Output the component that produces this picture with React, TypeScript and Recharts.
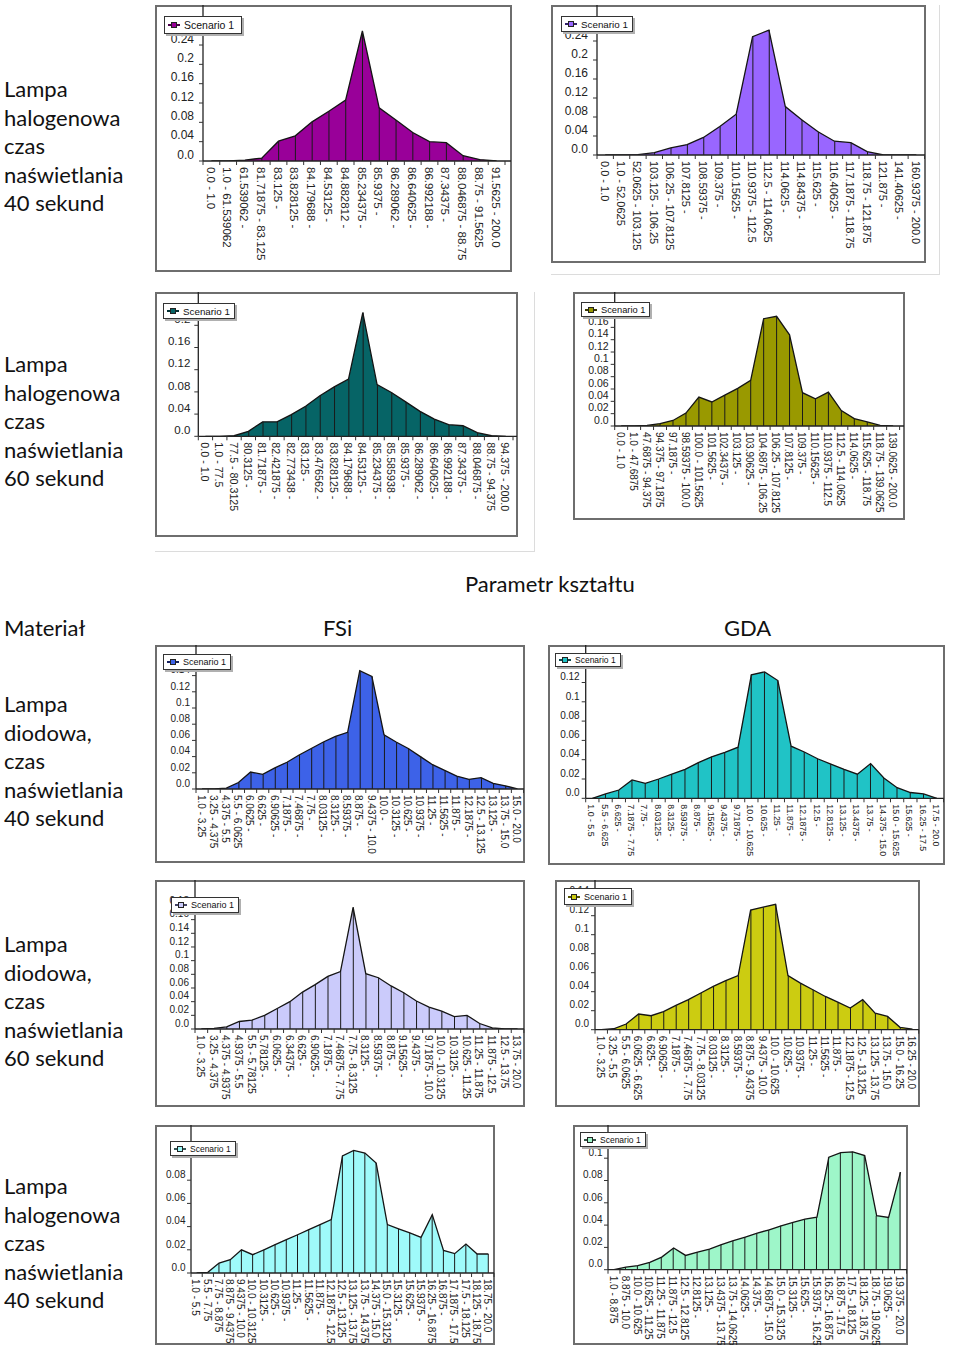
import React from 'react';
import { ComposedChart, Area, Bar, XAxis, YAxis, Legend } from 'recharts';

const FONT = '"Liberation Sans", Arial, Helvetica, sans-serif';
const TEXT_FONT = 'Lato, "Noto Sans", sans-serif';

// ---------------- DATA ----------------
const cats1 = ["0.0 - 1.0", "1.0 - 61.539062", "61.539062 -", "81.71875 - 83.125", "83.125 -", "83.828125 -", "84.179688 -", "84.53125 -", "84.882812 -", "85.234375 -", "85.9375 -", "86.289062 -", "86.640625 -", "86.992188 -", "87.34375 -", "88.046875 - 88.75", "88.75 - 91.5625", "91.5625 - 200.0"];
const vals1 = [0, 0, 0.002, 0.006, 0.041, 0.052, 0.081, 0.103, 0.126, 0.269, 0.110, 0.085, 0.059, 0.040, 0.038, 0.011, 0.003, 0];
const yTicks1 = [0, 0.04, 0.08, 0.12, 0.16, 0.2, 0.24];

const cats2 = ["0.0 - 1.0", "1.0 - 52.0625", "52.0625 - 103.125", "103.125 - 106.25", "106.25 - 107.8125", "107.8125 -", "108.59375 -", "109.375 -", "110.15625 -", "110.9375 - 112.5", "112.5 - 114.0625", "114.0625 -", "114.84375 -", "115.625 -", "116.40625 -", "117.1875 - 118.75", "118.75 - 121.875", "121.875 -", "141.40625 -", "160.9375 - 200.0"];
const vals2 = [0, 0, 0.001, 0.005, 0.015, 0.022, 0.037, 0.060, 0.086, 0.249, 0.263, 0.102, 0.074, 0.049, 0.029, 0.026, 0.007, 0, 0, 0];
const yTicks2 = [0, 0.04, 0.08, 0.12, 0.16, 0.2, 0.24];

const cats3 = ["0.0 - 1.0", "1.0 - 77.5", "77.5 - 80.3125", "80.3125 -", "81.71875 -", "82.421875 -", "82.773438 -", "83.125 -", "83.476562 -", "83.828125 -", "84.179688 -", "84.53125 -", "85.234375 -", "85.585938 -", "85.9375 -", "86.289062 -", "86.640625 -", "86.992188 -", "87.34375 -", "88.046875 -", "88.75 - 94.375", "94.375 - 200.0"];
const vals3 = [0, 0, 0.001, 0.009, 0.026, 0.026, 0.039, 0.054, 0.073, 0.089, 0.103, 0.223, 0.093, 0.079, 0.062, 0.045, 0.031, 0.021, 0.019, 0.0066, 0.001, 0];
const yTicks3 = [0, 0.04, 0.08, 0.12, 0.16, 0.2];

const cats4 = ["0.0 - 1.0", "1.0 - 47.6875", "47.6875 - 94.375", "94.375 - 97.1875", "97.1875 -", "98.59375 - 100.0", "100.0 - 101.5625", "101.5625 -", "102.34375 -", "103.125 -", "103.90625 -", "104.6875 - 106.25", "106.25 - 107.8125", "107.8125 -", "109.375 -", "110.15625 -", "110.9375 - 112.5", "112.5 - 114.0625", "114.0625 -", "115.625 - 118.75", "118.75 - 139.0625", "139.0625 - 200.0"];
const vals4 = [0, 0, 0.001, 0.004, 0.009, 0.021, 0.047, 0.039, 0.050, 0.061, 0.074, 0.174, 0.178, 0.148, 0.054, 0.044, 0.055, 0.025, 0.012, 0.0065, 0.001, 0];
const yTicks4 = [0, 0.02, 0.04, 0.06, 0.08, 0.1, 0.12, 0.14, 0.16, 0.18];

const cats5 = ["1.0 - 3.25", "3.25 - 4.375", "4.375 - 5.5", "5.5 - 6.0625", "6.0625 -", "6.625 -", "6.90625 -", "7.1875 -", "7.46875 -", "7.75 -", "8.03125 -", "8.3125 -", "8.59375 -", "8.875 -", "9.4375 - 10.0", "10.0 -", "10.3125 -", "10.625 -", "10.9375 -", "11.25 -", "11.5625 -", "11.875 -", "12.1875 -", "12.5 - 13.125", "13.125 -", "13.75 - 15.0", "15.0 - 20.0"];
const vals5 = [0, 0, 0.001, 0.008, 0.021, 0.018, 0.026, 0.033, 0.042, 0.050, 0.058, 0.065, 0.070, 0.146, 0.139, 0.067, 0.058, 0.050, 0.040, 0.030, 0.023, 0.016, 0.012, 0.014, 0.007, 0.004, 0];
const yTicks5 = [0, 0.02, 0.04, 0.06, 0.08, 0.1, 0.12, 0.14];

const cats6 = ["1.0 - 5.5", "5.5 - 6.625", "6.625 -", "7.1875 - 7.75", "7.75 -", "8.03125 -", "8.3125 -", "8.59375 -", "8.875 -", "9.15625 -", "9.4375 -", "9.71875 -", "10.0 - 10.625", "10.625 -", "11.25 -", "11.875 -", "12.1875 -", "12.5 -", "12.8125 -", "13.125 -", "13.4375 -", "13.75 -", "14.375 - 15.0", "15.0 - 15.625", "15.625 -", "16.25 - 17.5", "17.5 - 20.0"];
const vals6 = [0, 0.0045, 0.0086, 0.019, 0.0155, 0.020, 0.025, 0.030, 0.037, 0.043, 0.0476, 0.053, 0.128, 0.131, 0.122, 0.054, 0.048, 0.041, 0.0355, 0.030, 0.025, 0.036, 0.021, 0.011, 0.006, 0.0045, 0];
const yTicks6 = [0, 0.02, 0.04, 0.06, 0.08, 0.1, 0.12, 0.14];

const cats7 = ["1.0 - 3.25", "3.25 - 4.375", "4.375 - 4.9375", "4.9375 - 5.5", "5.5 - 5.78125", "5.78125 -", "6.0625 -", "6.34375 -", "6.625 -", "6.90625 -", "7.1875 -", "7.46875 - 7.75", "7.75 - 8.3125", "8.3125 -", "8.59375 -", "8.875 -", "9.15625 -", "9.4375 -", "9.71875 - 10.0", "10.0 - 10.3125", "10.3125 -", "10.625 - 11.25", "11.25 - 11.875", "11.875 - 12.5", "12.5 - 13.75", "13.75 - 20.0"];
const vals7 = [0, 0.001, 0.003, 0.011, 0.013, 0.020, 0.030, 0.040, 0.054, 0.065, 0.077, 0.084, 0.178, 0.081, 0.075, 0.063, 0.053, 0.041, 0.032, 0.026, 0.018, 0.020, 0.008, 0.0015, 0, 0];
const yTicks7 = [0, 0.02, 0.04, 0.06, 0.08, 0.1, 0.12, 0.14, 0.16, 0.18];

const cats8 = ["1.0 - 3.25", "3.25 - 5.5", "5.5 - 6.0625", "6.0625 - 6.625", "6.625 -", "6.90625 -", "7.1875 -", "7.46875 - 7.75", "7.75 - 8.03125", "8.03125 -", "8.3125 -", "8.59375 -", "8.875 - 9.4375", "9.4375 - 10.0", "10.0 - 10.625", "10.625 -", "10.9375 -", "11.25 -", "11.5625 -", "11.875 -", "12.1875 - 12.5", "12.5 - 13.125", "13.125 - 13.75", "13.75 - 15.0", "15.0 - 16.25", "16.25 - 20.0"];
const vals8 = [0, 0.001, 0.006, 0.0165, 0.0147, 0.019, 0.0256, 0.0316, 0.0386, 0.0456, 0.0516, 0.057, 0.126, 0.129, 0.132, 0.057, 0.049, 0.042, 0.035, 0.029, 0.0228, 0.0316, 0.0175, 0.014, 0.0025, 0.0007];
const yTicks8 = [0, 0.02, 0.04, 0.06, 0.08, 0.1, 0.12, 0.14];

const cats9 = ["1.0 - 5.5", "5.5 - 7.75", "7.75 - 8.875", "8.875 - 9.4375", "9.4375 - 10.0", "10.0 - 10.3125", "10.3125 -", "10.625 -", "10.9375 -", "11.25 -", "11.5625 -", "11.875 -", "12.1875 - 12.5", "12.5 - 13.125", "13.125 - 13.75", "13.75 - 14.375", "14.375 - 15.0", "15.0 - 15.3125", "15.3125 -", "15.625 -", "15.9375 -", "16.25 - 16.875", "16.875 -", "17.1875 - 17.5", "17.5 - 18.125", "18.125 - 18.75", "18.75 - 20.0"];
const vals9 = [0, 0.0006, 0.0086, 0.0115, 0.020, 0.0158, 0.020, 0.0244, 0.0287, 0.033, 0.0374, 0.0417, 0.046, 0.101, 0.1057, 0.1034, 0.0948, 0.0417, 0.038, 0.0345, 0.0307, 0.0503, 0.0195, 0.0167, 0.025, 0.0164, 0.0164];
const yTicks9 = [0, 0.02, 0.04, 0.06, 0.08, 0.1];

const cats10 = ["1.0 - 8.875", "8.875 - 10.0", "10.0 - 10.625", "10.625 - 11.25", "11.25 - 11.875", "11.875 - 12.5", "12.5 - 12.8125", "12.8125 -", "13.125 -", "13.4375 - 13.75", "13.75 - 14.0625", "14.0625 -", "14.375 -", "14.6875 - 15.0", "15.0 - 15.3125", "15.3125 -", "15.625 -", "15.9375 - 16.25", "16.25 - 16.875", "16.875 - 17.5", "17.5 - 18.125", "18.125 - 18.75", "18.75 - 19.0625", "19.0625 -", "19.375 - 20.0"];
const vals10 = [0, 0.0024, 0.0036, 0.0066, 0.0113, 0.0194, 0.0128, 0.0158, 0.0185, 0.0224, 0.026, 0.0293, 0.0328, 0.0358, 0.0394, 0.0424, 0.0454, 0.0472, 0.1009, 0.105, 0.1057, 0.1024, 0.0484, 0.0469, 0.0875];
const yTicks10 = [0, 0.02, 0.04, 0.06, 0.08, 0.1];

const seriesName = 'Scenario 1';

const rowLabels = [
  ['Lampa', 'halogenowa', 'czas', 'naświetlania', '40 sekund'],
  ['Lampa', 'halogenowa', 'czas', 'naświetlania', '60 sekund'],
  ['Lampa', 'diodowa,', 'czas', 'naświetlania', '40 sekund'],
  ['Lampa', 'diodowa,', 'czas', 'naświetlania', '60 sekund'],
  ['Lampa', 'halogenowa', 'czas', 'naświetlania', '40 sekund'],
];
const headerTitle = 'Parametr kształtu';
const headerMaterial = 'Materiał';
const headerCols = ['FSi', 'GDA'];

// ---------------- LAYOUT / STYLE ----------------
type Box = { x: number; y: number; w: number; h: number };
type Layout = {
  frame: Box; axisX: number; baseY: number; stepPx: number; step: number; rangeEnd: number;
  color: string; dark: string; yFont: number; yGap: number; xFont: number;
  legend: Box & { f: number }; outer?: { r: number; b: number };
};

const layouts: Layout[] = [
  { frame: { x: 155, y: 5, w: 357, h: 267 }, axisX: 203, baseY: 161, stepPx: 19.33, step: 0.04, rangeEnd: 505, color: '#990099', dark: '#4a004a', yFont: 12, yGap: 9, xFont: 11.5, legend: { x: 164, y: 16, w: 78, h: 18, f: 10.5 } },
  { frame: { x: 551, y: 5, w: 375, h: 258 }, axisX: 597, baseY: 155, stepPx: 19, step: 0.04, rangeEnd: 924.5, color: '#9966ff', dark: '#33206a', yFont: 12, yGap: 9, xFont: 11, legend: { x: 561, y: 16, w: 72, h: 16, f: 9.8 }, outer: { r: 940, b: 275 } },
  { frame: { x: 155, y: 292, w: 363, h: 245 }, axisX: 198.3, baseY: 436.3, stepPx: 22.2, step: 0.04, rangeEnd: 513, color: '#066466', dark: '#033033', yFont: 11.5, yGap: 8, xFont: 10.7, legend: { x: 163, y: 303, w: 71, h: 16, f: 9.8 }, outer: { r: 535, b: 552 } },
  { frame: { x: 573, y: 292, w: 332, h: 228 }, axisX: 614.7, baseY: 426, stepPx: 12.33, step: 0.02, rangeEnd: 899.6, color: '#999900', dark: '#3a3a00', yFont: 10.5, yGap: 6, xFont: 10, legend: { x: 581, y: 302, w: 67, h: 15, f: 9.3 } },
  { frame: { x: 155, y: 645, w: 370, h: 218 }, axisX: 196, baseY: 789, stepPx: 16.2, step: 0.02, rangeEnd: 523.5, color: '#3d62e8', dark: '#142060', yFont: 10, yGap: 6, xFont: 10, legend: { x: 163, y: 654, w: 66, h: 16, f: 9 } },
  { frame: { x: 548, y: 645, w: 397, h: 220 }, axisX: 585.7, baseY: 798.3, stepPx: 19.3, step: 0.02, rangeEnd: 943.5, color: '#20c3c6', dark: '#0a4a4c', yFont: 10, yGap: 6, xFont: 8.8, legend: { x: 555, y: 653, w: 60, h: 14, f: 8.5 } },
  { frame: { x: 155, y: 880, w: 370, h: 227 }, axisX: 195, baseY: 1029, stepPx: 13.67, step: 0.02, rangeEnd: 523.9, color: '#cbcbfb', dark: '#444466', yFont: 10, yGap: 6, xFont: 10, legend: { x: 171, y: 897, w: 66, h: 16, f: 9 } },
  { frame: { x: 555, y: 880, w: 365, h: 227 }, axisX: 595, baseY: 1029.7, stepPx: 19, step: 0.02, rangeEnd: 918.7, color: '#cccc11', dark: '#555500', yFont: 10, yGap: 6, xFont: 10, legend: { x: 564, y: 888, w: 64, h: 17, f: 9 } },
  { frame: { x: 155, y: 1125, w: 340, h: 220 }, axisX: 191, baseY: 1273, stepPx: 23.2, step: 0.02, rangeEnd: 494, color: '#9ffafa', dark: '#335555', yFont: 10, yGap: 5.5, xFont: 10, legend: { x: 170, y: 1141, w: 60, h: 15, f: 8.5 } },
  { frame: { x: 573, y: 1125, w: 335, h: 220 }, axisX: 608, baseY: 1269.7, stepPx: 22.3, step: 0.02, rangeEnd: 906.5, color: '#9ef6c9', dark: '#335544', yFont: 10, yGap: 5.5, xFont: 10, legend: { x: 580, y: 1132, w: 60, h: 15, f: 8.5 } },
];

const seriesData = [
  { cats: cats1, vals: vals1, yTicks: yTicks1 },
  { cats: cats2, vals: vals2, yTicks: yTicks2 },
  { cats: cats3, vals: vals3, yTicks: yTicks3 },
  { cats: cats4, vals: vals4, yTicks: yTicks4 },
  { cats: cats5, vals: vals5, yTicks: yTicks5 },
  { cats: cats6, vals: vals6, yTicks: yTicks6 },
  { cats: cats7, vals: vals7, yTicks: yTicks7 },
  { cats: cats8, vals: vals8, yTicks: yTicks8 },
  { cats: cats9, vals: vals9, yTicks: yTicks9 },
  { cats: cats10, vals: vals10, yTicks: yTicks10 },
];

const rowCenters = [90, 365, 705, 945, 1187];
const LINE_H = 28.5;

const fmtTick = (v: number) => (v === 0 ? '0.0' : String(v));

function HistChart({ L, cats, vals, yTicks }: { L: Layout; cats: string[]; vals: number[]; yTicks: number[] }) {
  const { frame } = L;
  const W = frame.w;
  const H = frame.h;
  const yAxisW = L.axisX - frame.x;
  const plotH = L.baseY - frame.y;
  const xAxisH = frame.y + H - L.baseY;
  const n = cats.length;
  const band = (L.rangeEnd - L.axisX) / n;
  const rightMargin = 1;
  const plotRight = frame.x + W - rightMargin;
  const padRight = Math.max(0, plotRight - L.rangeEnd);
  const yMax = (plotH / L.stepPx) * L.step;
  const data = cats.map((c, i) => ({ label: c, v: vals[i] }));
  const ax = yAxisW;

  const renderXTick = (props: any) => {
    const { x, payload, index } = props;
    const base = plotH;
    const left = x - band / 2;
    return (
      <g>
        <line x1={left} x2={left} y1={base} y2={base + 4} stroke="#333" strokeWidth={1} />
        {index === n - 1 ? <line x1={x + band / 2} x2={x + band / 2} y1={base} y2={base + 4} stroke="#333" strokeWidth={1} /> : null}
        <text
          transform={`translate(${x - 0.8},${base + 6}) rotate(90)`}
          dy="0.35em"
          textAnchor="start"
          fontSize={L.xFont}
          fontFamily={FONT}
          fill="#222"
        >
          {payload.value}
        </text>
      </g>
    );
  };

  const renderYTick = (props: any) => {
    const { y, payload } = props;
    return (
      <g>
        <line x1={ax - 4} x2={ax} y1={y} y2={y} stroke="#333" strokeWidth={1} />
        <text x={ax - L.yGap} y={y - 2.3} textAnchor="end" fontSize={L.yFont} fontFamily={FONT} fill="#222">
          {fmtTick(payload.value)}
        </text>
      </g>
    );
  };

  const legendContent = () => (
    <div
      style={{
        minWidth: L.legend.w,
        height: L.legend.h,
        boxSizing: 'border-box',
        border: '1px solid #333',
        background: '#fff',
        boxShadow: '2px 2px 0 #b0b0b0',
        display: 'flex',
        alignItems: 'center',
        paddingLeft: 3,
        paddingRight: 4,
        fontFamily: FONT,
        fontSize: L.legend.f,
        color: '#111',
        whiteSpace: 'nowrap',
      }}
    >
      <svg width={12} height={8} style={{ flex: 'none' }}>
        <line x1={0} y1={4} x2={12} y2={4} stroke={L.dark} strokeWidth={2} />
        <rect x={3.5} y={1.5} width={5} height={5} fill={L.color} stroke="#222" strokeWidth={1} />
      </svg>
      <span style={{ marginLeft: 4 }}>{seriesName}</span>
    </div>
  );

  return (
    <>
      {L.outer ? (
        <div
          style={{
            position: 'absolute',
            left: frame.x,
            top: frame.y,
            width: L.outer.r - frame.x,
            height: L.outer.b - frame.y,
            boxSizing: 'border-box',
            borderRight: '1px solid #dcdcdc',
            borderBottom: '1px solid #dcdcdc',
          }}
        />
      ) : null}
      <div
        style={{
          position: 'absolute',
          left: frame.x,
          top: frame.y,
          width: W,
          height: H,
          boxSizing: 'border-box',
          border: '2px solid #6e6e6e',
          background: '#fff',
        }}
      />
      <div style={{ position: 'absolute', left: frame.x, top: frame.y, width: W, height: H }}>
        <ComposedChart
          width={W}
          height={H}
          data={data}
          margin={{ top: 0, right: rightMargin, bottom: 0, left: 0 }}
          barCategoryGap={0}
          barGap={0}
        >
          <XAxis
            dataKey="label"
            type="category"
            interval={0}
            height={xAxisH}
            padding={{ left: 0, right: padRight }}
            axisLine={{ stroke: '#222', strokeWidth: 1.3 }}
            tickLine={false}
            tickSize={0}
            tickMargin={0}
            tick={renderXTick}
          />
          <YAxis
            type="number"
            domain={[0, yMax]}
            allowDataOverflow
            ticks={yTicks}
            interval={0}
            width={yAxisW}
            axisLine={{ stroke: '#222', strokeWidth: 1.3 }}
            tickLine={false}
            tickSize={0}
            tickMargin={0}
            tick={renderYTick}
          />
          <Area
            type="linear"
            dataKey="v"
            name={seriesName}
            stroke="#141414"
            strokeWidth={1.3}
            fill={L.color}
            fillOpacity={1}
            dot={false}
            activeDot={false}
            isAnimationActive={false}
          />
          <Bar dataKey="v" barSize={1} fill="#1a1a1a" isAnimationActive={false} legendType="none" />
          <Legend
            layout="horizontal"
            verticalAlign="middle"
            align="center"
            content={legendContent}
            wrapperStyle={{ left: L.legend.x - frame.x, top: L.legend.y - frame.y, width: 'auto', height: 'auto' }}
          />
        </ComposedChart>
      </div>
    </>
  );
}

const textStyle: React.CSSProperties = {
  position: 'absolute',
  fontFamily: TEXT_FONT,
  fontSize: 22,
  color: '#111',
  lineHeight: `${LINE_H}px`,
  whiteSpace: 'nowrap',
};

export default function App() {
  return (
    <div style={{ position: 'absolute', left: 0, top: 0, width: 960, height: 1364, background: '#fff', overflow: 'hidden' }}>
      {rowLabels.map((lines, r) => (
        <div key={r} style={{ ...textStyle, left: 4, top: rowCenters[r] - 15 }}>
          {lines.map((t, i) => (
            <div key={i}>{t}</div>
          ))}
        </div>
      ))}
      <div style={{ ...textStyle, left: 465, top: 585 - 15 }}>{headerTitle}</div>
      <div style={{ ...textStyle, left: 4, top: 629 - 15 }}>{headerMaterial}</div>
      <div style={{ ...textStyle, left: 323, top: 629 - 15 }}>{headerCols[0]}</div>
      <div style={{ ...textStyle, left: 724, top: 629 - 15 }}>{headerCols[1]}</div>
      {layouts.map((L, i) => (
        <HistChart key={i} L={L} cats={seriesData[i].cats} vals={seriesData[i].vals} yTicks={seriesData[i].yTicks} />
      ))}
    </div>
  );
}
